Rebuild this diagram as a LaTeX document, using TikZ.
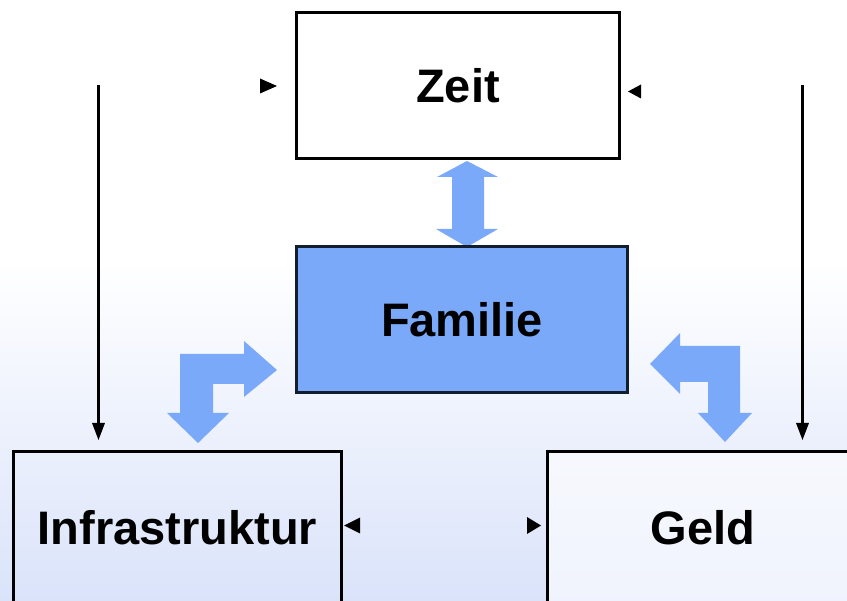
\documentclass[tikz,border=0pt]{standalone}
\usepackage{fontspec}
\setmainfont{Liberation Sans}
\definecolor{bgblue}{RGB}{218,227,250}
\definecolor{famblue}{RGB}{123,169,250}
\definecolor{navy}{RGB}{16,30,46}
\tikzset{
  box/.style={draw=black, line width=3pt, inner sep=0pt, font=\bfseries\fontsize{47}{56}\selectfont},
  bluearrow/.style={fill=famblue, draw=none},
  headtip/.style={fill=black, draw=none},
  vline/.style={draw=black, line width=3.5pt},
}
\begin{document}
\begin{tikzpicture}[x=1pt,y=-1pt]
\useasboundingbox (0,0) rectangle (847,601);
\clip (0,0) rectangle (847,601);
% background
\fill[white] (0,0) rectangle (847,601);
\shade[top color=white, bottom color=bgblue] (0,260) rectangle (847,601);

% blue arrows (drawn below the boxes)
\path[bluearrow] (467,161) -- (498,177) -- (484,177) -- (484,229) -- (498,229)
  -- (467,247) -- (436,229) -- (452,229) -- (452,177) -- (437,177) -- cycle;
\path[bluearrow] (180,413) -- (167,413) -- (198,443) -- (229,413) -- (213,413)
  -- (213,384) -- (244,384) -- (244,397) -- (277,370) -- (244,341) -- (244,354)
  -- (180,354) -- cycle;
\path[bluearrow] (740,346) -- (680,346) -- (680,333) -- (650,364) -- (680,394)
  -- (680,382) -- (708,382) -- (708,413) -- (698,413) -- (725,442) -- (752,413)
  -- (740,413) -- cycle;

% boxes
\node[box, fill=white, minimum width=323pt, minimum height=146pt] (zeit) at (458,85.5) {Zeit};
\node[box, draw=navy, fill=famblue, minimum width=331pt, minimum height=146pt] (familie) at (462,319.5) {Familie};
\node[box, minimum width=328pt, minimum height=153pt] (infra) at (177.5,528) {Infrastruktur};
\node[box, fill=white, fill opacity=0.6, text opacity=1, minimum width=311pt, minimum height=153pt] (geld) at (703,528) {Geld};

% vertical connectors
\coordinate (ltop) at (98.5,85);
\coordinate (lbot) at (98.5,440);
\coordinate (rtop) at (802.5,85);
\coordinate (rbot) at (802.5,440);
\draw[vline, shorten >=14pt] (ltop) -- (lbot);
\draw[vline, shorten >=14pt] (rtop) -- (rbot);
\path[headtip] (lbot) -- ++(-6.5,-17) -- ++(13,0) -- cycle;
\path[headtip] (rbot) -- ++(-6.5,-17) -- ++(13,0) -- cycle;

% small arrowheads
\coordinate (zl) at (277,86);
\coordinate (zr) at (628,91.5);
\coordinate (il) at (344,525.5);
\coordinate (gr) at (541,525.5);
\path[headtip] (zl) -- ++(-17,-7.5) -- ++(0,15) -- cycle;
\path[headtip] (zr) -- ++(13,-7) -- ++(0,14) -- cycle;
\path[headtip] (il) -- ++(16,-8) -- ++(0,16) -- cycle;
\path[headtip] (gr) -- ++(-14,-8.5) -- ++(0,17) -- cycle;
\end{tikzpicture}
\end{document}
